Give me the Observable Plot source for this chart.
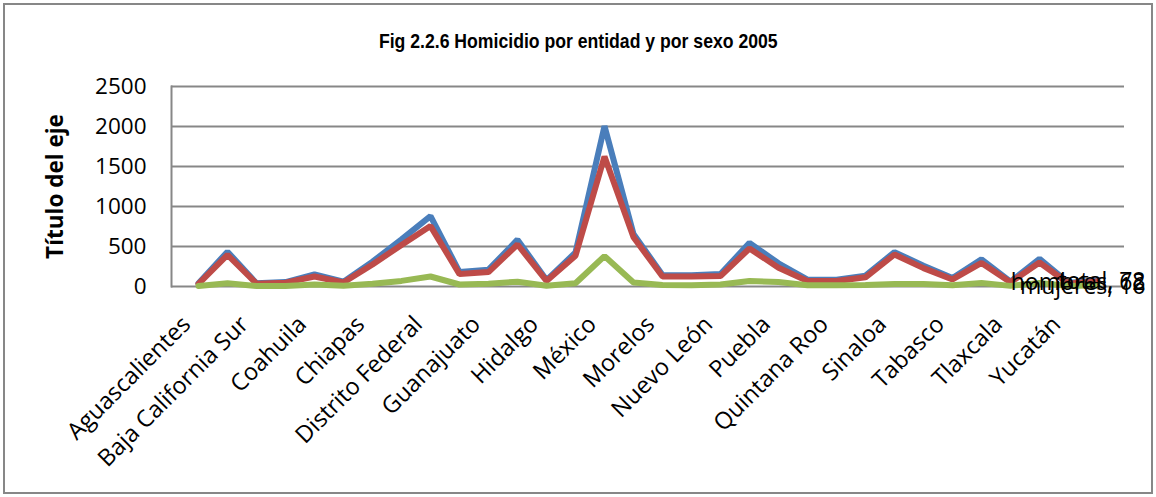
<!DOCTYPE html>
<html><head><meta charset="utf-8">
<script src="https://cdn.jsdelivr.net/npm/d3@7"></script>
<script src="https://cdn.jsdelivr.net/npm/@observablehq/plot@0.6"></script>
<style>
body{margin:0;background:#fff}
#wrap{position:relative;width:1156px;height:497px;overflow:hidden}
#border{position:absolute;left:3px;top:3px;width:1150px;height:491px;border:2px solid #878787;box-sizing:border-box}
#title{position:absolute;left:0;width:1156px;top:30px;line-height:22px;text-align:center;font-family:"Liberation Sans",Arial,sans-serif;font-weight:bold;font-size:20.5px;color:#000;transform:scaleX(0.86);transform-origin:580px 0}
#chart{position:absolute;left:0;top:0}
</style></head>
<body>
<div id="wrap"><div id="border"></div><div id="title">Fig 2.2.6 Homicidio por entidad y por sexo 2005</div><div id="chart"></div></div>
<script>
const states = ["Aguascalientes","Baja California","Baja California Sur","Campeche","Coahuila","Colima","Chiapas","Chihuahua","Distrito Federal","Durango","Guanajuato","Guerrero","Hidalgo","Jalisco","México","Michoacán","Morelos","Nayarit","Nuevo León","Oaxaca","Puebla","Querétaro","Quintana Roo","San Luis Potosí","Sinaloa","Sonora","Tabasco","Tamaulipas","Tlaxcala","Veracruz","Yucatán","Zacatecas"];
const total   = [40,435,40,55,150,60,310,590,880,180,210,585,80,425,2005,655,145,140,155,545,290,85,85,135,430,260,105,340,60,345,45,78];
const hombres = [33,395,35,48,125,50,275,520,755,155,180,525,70,385,1625,615,125,125,130,475,235,70,70,115,400,230,88,295,52,300,38,62];
const mujeres = [7,40,5,7,25,10,35,70,125,25,35,60,10,40,380,50,20,15,25,70,55,15,15,20,30,30,17,45,8,45,7,16];
const seriesNames = ["total","hombres","mujeres"];
const seriesColors = ["#4A7EBB","#BE4B48","#98B954"];
const yTicks = [0,500,1000,1500,2000,2500];
const xTicks = states.filter((d,i)=>i%2===0);
const yTitle = "Título del eje";

const seriesValues = [total, hombres, mujeres];
const rows = seriesNames.map((s,k)=>states.map((st,i)=>({serie:s, state:st, value:seriesValues[k][i]})));
const lastPts = rows.map(r=>r[r.length-1]);

const chart = Plot.plot({
  width:1156, height:497,
  marginLeft:171, marginRight:32, marginTop:86, marginBottom:211,
  style:{fontFamily:"'Open Sans', sans-serif", fontSize:"22px", color:"#000", background:"transparent", overflow:"visible"},
  x:{type:"point", domain:states, padding:0.5},
  y:{domain:[0,2500]},
  marks:[
    Plot.ruleY(yTicks, {stroke:"#878787", strokeWidth:2}),
    Plot.frame({anchor:"left", stroke:"#878787", strokeWidth:2}),
    Plot.axisY({ticks:yTicks, tickSize:0, tickPadding:25, tickFormat:"d", label:null, fontSize:22.5}),
    Plot.axisX({ticks:xTicks, tickSize:0, tickRotate:-45, tickPadding:34, dx:-12, label:null, fontSize:23.5}),
    Plot.text([yTitle], {frameAnchor:"left", dx:-116, rotate:-90, textAnchor:"middle", fontWeight:"bold", fontSize:22.5, fill:"#000"}),
    ...rows.map((r,k)=>Plot.lineY(r, {x:"state", y:"value", stroke:seriesColors[k], strokeWidth:6, strokeLinejoin:"miter", strokeLinecap:"round"})),
    Plot.text(lastPts, {x:"state", y:"value", text:d=>`${d.serie}, ${d.value}`, textAnchor:"end", dx:48, dy:1, fontSize:23, fill:"#000"})
  ]
});
document.getElementById("chart").appendChild(chart);
</script>
</body></html>
